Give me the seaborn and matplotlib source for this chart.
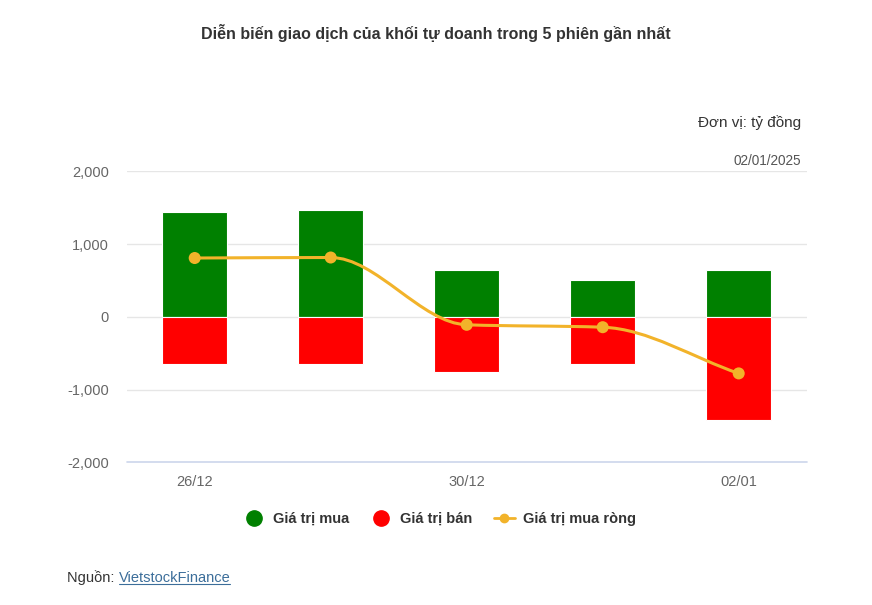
import numpy as np
import pandas as pd
import matplotlib
matplotlib.use("Agg")
import matplotlib.pyplot as plt
from matplotlib.path import Path
from matplotlib.patches import PathPatch
from matplotlib.lines import Line2D
import seaborn as sns

dates = ["26/12", "27/12", "30/12", "31/12", "02/01"]
tick_labels = ["26/12", "", "30/12", "", "02/01"]
buy = [1445, 1465, 640, 505, 640]
sell = [-646, -646, -755, -648, -1418]
net = [808, 815, -110, -143, -778]

GREEN = "#008000"
RED = "#ff0000"
GOLD = "#F2B32A"

sns.set_theme(style="white")
plt.rcParams["font.family"] = ["Liberation Sans", "DejaVu Sans"]

fig = plt.figure(figsize=(8.72, 6.05), dpi=100)
ax = fig.add_axes([126.7 / 872, 1 - 462.3 / 605, 680 / 872, (462.3 - 171.3) / 605])

df = pd.DataFrame({"date": dates, "buy": buy, "sell": sell, "net": net})
sns.barplot(data=df, x="date", y="buy", order=dates, color=GREEN, width=0.48,
            saturation=1, edgecolor="white", linewidth=0.8, ax=ax, zorder=2)
sns.barplot(data=df, x="date", y="sell", order=dates, color=RED, width=0.48,
            saturation=1, edgecolor="white", linewidth=0.8, ax=ax, zorder=2)

# smooth monotone curve through net values (drawing style only)
xs = np.arange(len(net), dtype=float)
ys = np.array(net, dtype=float)
d = np.diff(ys) / np.diff(xs)
m = np.zeros_like(ys)
m[0], m[-1] = d[0], d[-1]
for i in range(1, len(ys) - 1):
    if d[i - 1] * d[i] <= 0:
        m[i] = 0
    else:
        m[i] = 2 / (1 / d[i - 1] + 1 / d[i])
verts = [(xs[0], ys[0])]
codes = [Path.MOVETO]
for i in range(len(ys) - 1):
    h = xs[i + 1] - xs[i]
    verts += [(xs[i] + h / 3, ys[i] + m[i] * h / 3),
              (xs[i + 1] - h / 3, ys[i + 1] - m[i + 1] * h / 3),
              (xs[i + 1], ys[i + 1])]
    codes += [Path.CURVE4] * 3
ax.add_patch(PathPatch(Path(verts, codes), fill=False, edgecolor=GOLD, lw=2.2, zorder=3))
sns.scatterplot(x=xs, y=ys, color=GOLD, s=75, edgecolor="none", ax=ax, zorder=4, legend=False)

ax.set_ylim(-2000, 2000)
ax.set_xlim(-0.5, 4.5)
ax.set_yticks([-2000, -1000, 0, 1000, 2000])
ax.set_yticklabels(["-2,000", "-1,000", "0", "1,000", "2,000"])
ax.set_xticks(range(5))
ax.set_xticklabels(tick_labels)
ax.tick_params(axis="both", length=0, colors="#666666", labelsize=10.5)
ax.tick_params(axis="x", pad=9)
ax.tick_params(axis="y", pad=13)
ax.set_xlabel("")
ax.set_ylabel("")
for s in ["top", "right", "left", "bottom"]:
    ax.spines[s].set_visible(False)
for yv in [-1000, 0, 1000, 2000]:
    ax.axhline(yv, color="#e6e6e6", lw=1, zorder=0)
ax.axhline(-2000, color="#ccd6eb", lw=1.2, zorder=0, clip_on=False)

fig.text(0.5, 1 - 33 / 605, "Diễn biến giao dịch của khối tự doanh trong 5 phiên gần nhất",
         ha="center", va="center", fontsize=11.5, fontweight="bold", color="#333333")
fig.text(801 / 872, 1 - 123 / 605, "Đơn vị: tỷ đồng", ha="right", va="center",
         fontsize=11, color="#333333")
fig.text(801 / 872, 1 - 161 / 605, "02/01/2025", ha="right", va="center",
         fontsize=9.8, color="#555555")

handles = [
    Line2D([], [], ls="none", marker="o", ms=11, color=GREEN),
    Line2D([], [], ls="none", marker="o", ms=11, color=RED),
    Line2D([], [], ls="-", lw=2, marker="o", ms=6, color=GOLD),
]
leg = fig.legend(handles, ["Giá trị mua", "Giá trị bán", "Giá trị mua ròng"],
                 loc="center", bbox_to_anchor=(440 / 872, 1 - 519 / 605), ncol=3,
                 frameon=False, handlelength=1.4, columnspacing=1.5, handletextpad=0.6,
                 prop={"weight": "bold", "size": 10.5})
for t in leg.get_texts():
    t.set_color("#333333")

t1 = fig.text(67 / 872, 1 - 578 / 605, "Nguồn: ", ha="left", va="center", fontsize=10.5, color="#333333")
fig.canvas.draw()
bb = t1.get_window_extent()
t2 = fig.text(bb.x1 / 872, 1 - 578 / 605, "VietstockFinance", ha="left", va="center",
              fontsize=10.5, color="#3C6E9A")
fig.canvas.draw()
bb2 = t2.get_window_extent()
fig.add_artist(Line2D([bb2.x0 / 872, bb2.x1 / 872], [(bb2.y0 + 1) / 605] * 2, color="#3C6E9A", lw=0.8))

fig.savefig("out.png", dpi=100, facecolor="white")
